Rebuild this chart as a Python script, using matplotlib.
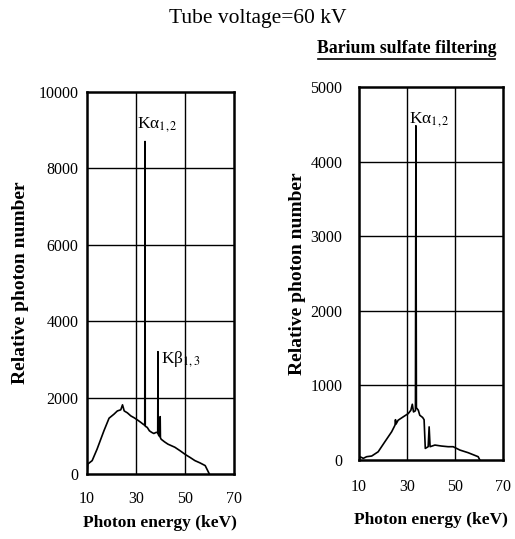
import matplotlib.pyplot as plt
from matplotlib.lines import Line2D

plt.rcParams['font.family'] = 'Liberation Serif'
plt.rcParams['mathtext.fontset'] = 'stix'

# left panel: unfiltered spectrum (keV, relative photon number)
energy_left = [10.0, 10.3, 12.1, 14.1, 16.9, 19.0, 21.0, 22.4, 23.8, 24.5, 25.2, 26.5,
               27.9, 29.3, 30.7, 32.0, 33.2, 33.6, 33.7, 33.8, 34.6, 35.5, 36.4, 37.3,
               38.3, 38.9, 39.0, 39.1, 39.4, 39.8, 39.9, 40.0, 40.3, 41.7, 43.1, 45.9,
               48.0, 50.3, 52.2, 54.1, 56.2, 58.3, 60.0]
counts_left = [0, 260, 350, 650, 1130, 1460, 1565, 1650, 1680, 1810, 1650, 1600,
               1520, 1470, 1410, 1350, 1290, 1280, 8700, 1250, 1220, 1130, 1090, 1060,
               1090, 1080, 3200, 1040, 1000, 980, 1500, 950, 910, 840, 780, 700,
               610, 505, 430, 350, 290, 220, 0]

# right panel: barium sulfate filtered spectrum
energy_right = [10.2, 10.4, 11.8, 13.2, 15.3, 18.0, 20.8, 23.6, 25.0, 25.2, 25.4, 26.3,
                28.4, 30.5, 31.6, 32.2, 32.7, 33.5, 33.7, 33.9, 34.7, 35.3, 36.5, 37.1,
                37.6, 38.8, 39.2, 39.6, 41.6, 44.3, 47.1, 49.2, 52.0, 55.4, 59.6, 60.3]
counts_right = [0, 44, 22, 44, 53, 110, 245, 378, 467, 540, 480, 533,
                578, 622, 667, 747, 644, 660, 4480, 700, 667, 600, 570, 540,
                155, 178, 444, 178, 200, 187, 178, 178, 133, 98, 44, 0]

xticks = [10, 30, 50, 70]
yticks_left = [0, 2000, 4000, 6000, 8000, 10000]
yticks_right = [0, 1000, 2000, 3000, 4000, 5000]

fig = plt.figure(figsize=(5.15, 5.39), dpi=100)
ax1 = fig.add_axes([0.169, 0.1206, 0.285, 0.709])
ax2 = fig.add_axes([0.697, 0.1466, 0.280, 0.692])


def style(ax, yticks, ymax, xpad, ylpad):
    ax.set_xlim(10, 70)
    ax.set_ylim(0, ymax)
    ax.set_xticks(xticks)
    ax.set_yticks(yticks)
    ax.tick_params(length=0, labelsize=11.5)
    ax.tick_params(axis='x', pad=xpad)
    for s in ax.spines.values():
        s.set_linewidth(1.8)
    for x in [30, 50]:
        ax.axvline(x, color='black', lw=1.0, zorder=1)
    for y in yticks[1:-1]:
        ax.axhline(y, color='black', lw=1.0, zorder=1)
    ax.set_xlabel('Photon energy (keV)', fontsize=12.5, fontweight='bold', labelpad=6)
    ax.set_ylabel('Relative photon number', fontsize=14, fontweight='bold',
                  labelpad=ylpad)


style(ax1, yticks_left, 10000, 12, 7)
ax1.tick_params(axis='y', pad=6)
ax1.plot(energy_left, counts_left, color='black', lw=1.2, zorder=3)
ax1.text(30.3, 9150, 'K\u03b1$_{1,2}$', fontsize=12.5, va='center')
ax1.text(40.3, 3000, 'K\u03b2$_{1,3}$', fontsize=12.5, va='center')

style(ax2, yticks_right, 5000, 14, 3)
ax2.tick_params(axis='y', pad=12)
ax2.xaxis.labelpad = 12
ax2.plot(energy_right, counts_right, color='black', lw=1.2, zorder=3)
ax2.text(30.8, 4560, 'K\u03b1$_{1,2}$', fontsize=12.5, va='center')

fig.text(0.50, 0.965, 'Tube voltage=60 kV', fontsize=15.5, ha='center', va='center')
fig.text(0.790, 0.91, 'Barium sulfate filtering', fontsize=12.8, fontweight='bold',
         ha='center', va='center')
fig.add_artist(Line2D([0.617, 0.962], [0.890, 0.890], color='black', lw=1.2))

fig.savefig('out.png', dpi=100)
